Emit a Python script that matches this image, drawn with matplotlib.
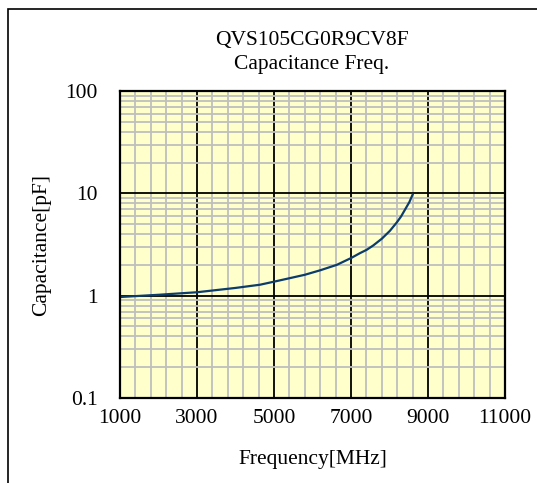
import matplotlib
matplotlib.use("Agg")
import matplotlib.pyplot as plt
from matplotlib.patches import Rectangle
from matplotlib.ticker import FixedLocator, NullFormatter

plt.rcParams['font.family'] = ['Liberation Serif', 'DejaVu Serif']

# curve
freq = [1000, 2000, 3000, 4000, 4640, 5000, 5400, 5800, 6200, 6630, 7000, 7230, 7410,
        7580, 7800, 8010, 8190, 8300, 8400, 8515, 8600]
cap = [0.97, 1.02, 1.08, 1.19, 1.28, 1.37, 1.48, 1.60, 1.77, 2.0, 2.33, 2.6, 2.81,
       3.1, 3.6, 4.3, 5.2, 5.94, 6.9, 8.2, 9.7]

x_ticks = [1000, 3000, 5000, 7000, 9000, 11000]
y_ticks = [0.1, 1, 10, 100]
y_labels = ['0.1', '1', '10', '100']

fig = plt.figure(figsize=(5.37, 4.83), dpi=100)

# outer frame, runs off the right and bottom edges
frame = Rectangle((8 / 537, -0.1), 1.2, 1 - 9 / 483 + 0.1, transform=fig.transFigure,
                  fill=False, edgecolor='black', linewidth=1.2, clip_on=False)
fig.patches.append(frame)

ax = fig.add_axes([120 / 537, 1 - 398 / 483, 385 / 537, 307 / 483])
ax.set_facecolor('#FFFFCC')
ax.set_yscale('log')
ax.set_xlim(1000, 11000)
ax.set_ylim(0.1, 100)

ax.plot(freq, cap, color='#0B3C6B', linewidth=1.6, zorder=5, solid_joinstyle='round')

ax.set_xticks(x_ticks)
ax.set_xticklabels([str(t) for t in x_ticks])
ax.xaxis.set_minor_locator(FixedLocator(range(1000, 11001, 400)))
ax.set_yticks(y_ticks)
ax.set_yticklabels(y_labels)
ax.yaxis.set_minor_locator(FixedLocator([m * 10.0 ** e for e in range(-1, 2) for m in range(2, 10)]))
ax.yaxis.set_minor_formatter(NullFormatter())

ax.grid(which='minor', color='#BFBFBF', linewidth=1.3, zorder=1)
ax.grid(which='major', color='black', linewidth=1.3, zorder=2)
ax.set_axisbelow(True)
ax.tick_params(which='both', length=0, labelsize=15.5)
ax.tick_params(axis='y', pad=16)
ax.tick_params(axis='x', pad=8)
for s in ax.spines.values():
    s.set_linewidth(1.6)
    s.set_zorder(6)

ax.set_xlabel('Frequency[MHz]', fontsize=15.5, labelpad=16)
ax.set_ylabel('Capacitance[pF]', fontsize=15.5, labelpad=10)

fig.text(312 / 537, 1 - 41 / 483, 'QVS105CG0R9CV8F', ha='center', va='center', fontsize=15.5)
fig.text(312 / 537, 1 - 65 / 483, 'Capacitance Freq.', ha='center', va='center', fontsize=15.5)

fig.savefig('out.png', dpi=100)
